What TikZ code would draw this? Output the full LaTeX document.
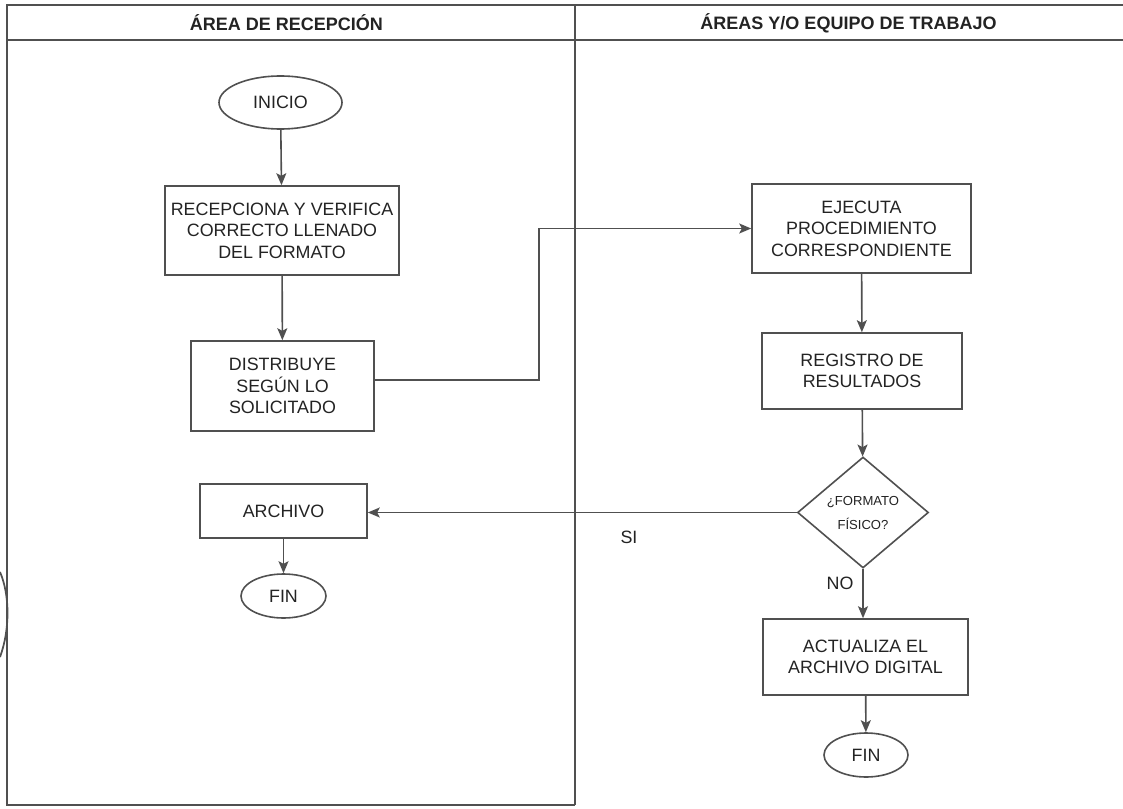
\documentclass[tikz,border=0pt]{standalone}
\usepackage{fontspec}
\setmainfont{Liberation Sans}
\usetikzlibrary{shapes.geometric,arrows.meta}
\definecolor{ln}{RGB}{80,80,80}
\definecolor{tx}{RGB}{35,35,35}
\begin{document}
\begin{tikzpicture}[x=0.75pt,y=-0.75pt,
  lane/.style={draw=ln,line width=1.2pt},
  procbox/.style={draw=ln,line width=1.2pt,rectangle,align=center,inner sep=0pt,text=tx,font=\fontsize{13.4}{16.1}\selectfont},
  term/.style={draw=ln,line width=1.2pt,ellipse,inner sep=0pt,text=tx,font=\fontsize{13.4}{16.1}\selectfont},
  decide/.style={draw=ln,line width=1.2pt,diamond,inner sep=0pt,align=center,text=tx,font=\fontsize{9.8}{18}\selectfont},
  hdr/.style={text=tx,font=\fontsize{13.5}{16}\selectfont\bfseries},
  lbl/.style={text=tx,font=\fontsize{13.4}{16}\selectfont},
  flow/.style={draw=ln,line width=1.2pt,-{Stealth[length=9pt,width=7.5pt,inset=2pt]}},
  link/.style={draw=ln,line width=1.2pt}
]
\useasboundingbox (0,0) rectangle (1123,809);
\fill[white] (0,0) rectangle (1123,809);

% swimlane frame
\coordinate (tl) at (7,5);
\coordinate (tr) at (1123,5);
\coordinate (hl) at (7,40);
\coordinate (hr) at (1123,40);
\coordinate (bl) at (7,805);
\coordinate (dt) at (575,5);
\coordinate (db) at (575,805);
\draw[lane] (tr) -- (tl) -- (bl) -- (db);
\draw[lane] (hl) -- (hr);
\draw[lane] (dt) -- (db);
% scan artefact arc at left edge
\coordinate (a1) at (0,572);
\coordinate (a2) at (0,657);
\draw[ln,line width=1.3pt] (a1) .. controls (10,595) and (10,630) .. (a2);

\node[hdr] (hL) at (286.5,23) {ÁREA DE RECEPCIÓN};
\node[hdr] (hR) at (848.5,23) {ÁREAS Y/O EQUIPO DE TRABAJO};

% left lane
\node[term,minimum width=92.25pt,minimum height=39.75pt] (inicio) at (280.5,102.5) {INICIO};
\node[procbox,minimum width=175.5pt,minimum height=66.75pt] (recep) at (282,230.5) {RECEPCIONA Y VERIFICA\\CORRECTO LLENADO\\DEL FORMATO};
\node[procbox,minimum width=137.25pt,minimum height=67.5pt] (distrib) at (282.5,386) {DISTRIBUYE\\SEGÚN LO\\SOLICITADO};
\node[procbox,minimum width=125.25pt,minimum height=40.5pt] (archivo) at (283.5,511) {ARCHIVO};
\node[term,minimum width=63.75pt,minimum height=33pt] (finL) at (283.5,596) {FIN};

% right lane
\node[procbox,minimum width=164.25pt,minimum height=66.75pt] (ejecuta) at (861.5,228.5) {EJECUTA\\PROCEDIMIENTO\\CORRESPONDIENTE};
\node[procbox,minimum width=150pt,minimum height=57pt] (registro) at (862,371) {REGISTRO DE\\RESULTADOS};
\node[decide,minimum width=98.25pt,minimum height=83.25pt] (fisico) at (863,512.5) {¿FORMATO\\FÍSICO?};
\node[procbox,minimum width=153.75pt,minimum height=57pt] (actualiza) at (865.5,657) {ACTUALIZA EL\\ARCHIVO DIGITAL};
\node[term,minimum width=63pt,minimum height=33pt] (finR) at (866,755) {FIN};

\node[lbl] (si) at (629,537) {SI};
\node[lbl] (no) at (840,583) {NO};

% connectors
\draw[flow] (inicio) -- (recep);
\draw[flow] (recep) -- (distrib);
\coordinate (b1) at (539,380);
\coordinate (b2) at (539,228.5);
\draw[flow] (distrib.east |- b1) -- (b1) -- (b2) -- (ejecuta.west);
\draw[flow] (ejecuta) -- (registro);
\draw[flow] (registro) -- (fisico);
\draw[flow] (fisico.west) -- (fisico.west -| archivo.east);
\draw[flow] (archivo) -- (finL);
\draw[flow] (fisico.south) -- (actualiza.north -| fisico.south);
\draw[flow] (actualiza) -- (finR);
\end{tikzpicture}
\end{document}
